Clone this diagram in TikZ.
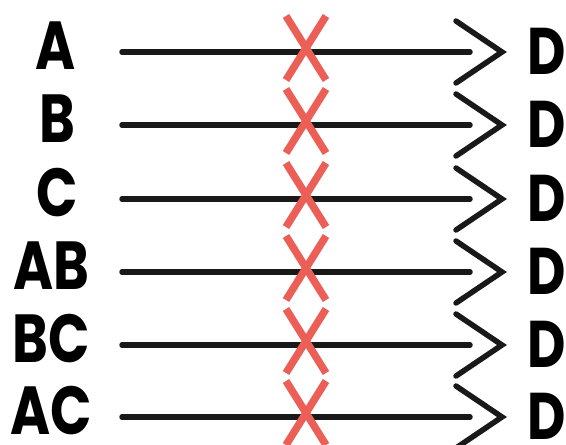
\documentclass[tikz,border=0pt]{standalone}
\usepackage{fontspec}
\setmainfont{Poppins}[FakeStretch=0.8]
\usetikzlibrary{calc}
\definecolor{xred}{HTML}{EC5F57}
\begin{document}
\begin{tikzpicture}[x=1pt,y=-1pt,
  lab/.style={font=\fontsize{68}{72}\selectfont\bfseries, inner sep=0pt, anchor=base},
  dlab/.style={font=\fontsize{66}{70}\selectfont\bfseries, inner sep=0pt, anchor=base west},
  conn/.style={line width=5.5pt, black!90, line cap=round},
  chev/.style={line width=5.5pt, black!90, line cap=round, line join=miter},
  cross/.style={line width=7.5pt, xred}]
\useasboundingbox (0,0) rectangle (566,445);
\foreach \y/\t/\cx [count=\i] in {52/A/56, 125/B/57, 199/C/57, 272/AB/51, 345/BC/51, 417/AC/51}{
  \node[lab] (l\i) at (\cx,\y+17) {\t};
  \node[dlab] (d\i) at (527,\y+22) {D};
  \coordinate (s\i) at (122,\y);
  \coordinate (e\i) at (470,\y);
  \coordinate (t\i) at (502,\y);
  \draw[conn] (s\i) -- (e\i);
  \draw[chev] ($(t\i)+(-46,-31)$) -- (t\i) -- ($(t\i)+(-46,31)$);
  \draw[cross] (286,\y-36) -- (326,\y+28) (326,\y-36) -- (286,\y+28);
}
\end{tikzpicture}
\end{document}
